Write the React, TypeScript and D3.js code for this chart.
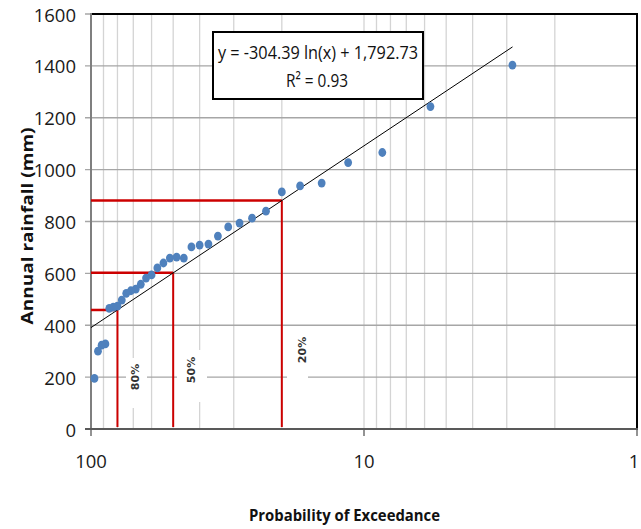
import React from "react";
import * as d3 from "d3";

// Exceedance probability (%) of each ranked year (rank m / (n+1))
const exceedance = [
  2.86, 5.71, 8.57, 11.43, 14.29, 17.14, 20.0, 22.86, 25.71, 28.57, 31.43, 34.29,
  37.14, 40.0, 42.86, 45.71, 48.57, 51.43, 54.29, 57.14, 60.0, 62.86, 65.71, 68.57,
  71.43, 74.29, 77.14, 80.0, 82.86, 85.71, 88.57, 91.43, 94.29, 97.14,
];
// Annual rainfall (mm), ranked
const rainfall = [
  1403, 1243, 1066, 1027, 948, 937, 914, 840, 813, 794, 779, 744, 713, 709, 702,
  659, 663, 659, 640, 621, 594, 582, 558, 539, 533, 523, 497, 474, 470, 465, 328,
  323, 300, 195,
];
const yTicks = [0, 200, 400, 600, 800, 1000, 1200, 1400, 1600];
const xTickLabels = [100, 10, 1];
const xMinorGrid = [90, 80, 70, 60, 50, 40, 30, 20, 10, 9, 8, 7, 6, 5, 4, 3, 2];
const trendCoef = { a: -304.39, b: 1792.73 };
const trendRange = [100, 2.857];
const designProbs = [80, 50, 20];
const designLabels = ["80%", "50%", "20%"];

const FONT = "'Liberation Sans Narrow', 'Open Sans', sans-serif";

export default function App() {
  const x = d3.scaleLog().domain([100, 1]).range([91, 637]);
  const y = d3.scaleLinear().domain([0, 1600]).range([429, 14]);
  const trend = (p: number) => trendCoef.a * Math.log(p) + trendCoef.b;
  const line = d3
    .line<number>()
    .x((p) => x(p))
    .y((p) => y(trend(p)));

  const labelBoxes = [
    { bx: 126, by: 358, bw: 21, bh: 50, cx: 135, cy: 377 },
    { bx: 177, by: 350, bw: 30, bh: 52, cx: 191.5, cy: 370 },
    { bx: 287, by: 330, bw: 21, bh: 55, cx: 302, cy: 350 },
  ];

  return (
    <svg
      width={641}
      height={529}
      style={{ position: "absolute", left: 0, top: 0, background: "#fff" }}
    >
      <rect x={0} y={0} width={641} height={529} fill="#fff" />
      {xMinorGrid.map((v) => (
        <line
          key={"vx" + v}
          x1={x(v)}
          x2={x(v)}
          y1={y(1600)}
          y2={y(0)}
          stroke="#d4d4d4"
          strokeWidth={1.3}
        />
      ))}
      {yTicks.map((v) => (
        <line
          key={"hy" + v}
          x1={85}
          x2={637}
          y1={y(v)}
          y2={y(v)}
          stroke="#a6a6a6"
          strokeWidth={1.3}
        />
      ))}
      {labelBoxes.map((b, i) => (
        <rect key={"lb" + i} x={b.bx} y={b.by} width={b.bw} height={b.bh} fill="#fff" />
      ))}
      <line x1={91} x2={638} y1={y(1600)} y2={y(1600)} stroke="#000" strokeWidth={2} />
      <line x1={637} x2={637} y1={y(1600)} y2={y(0)} stroke="#000" strokeWidth={2} />
      <line x1={91} x2={91} y1={y(1600) - 1} y2={y(0)} stroke="#7f7f7f" strokeWidth={2} />
      <line x1={85} x2={638} y1={y(0)} y2={y(0)} stroke="#595959" strokeWidth={2} />
      {xTickLabels.map((v) => (
        <line
          key={"xt" + v}
          x1={x(v)}
          x2={x(v)}
          y1={y(0)}
          y2={y(0) + 7}
          stroke="#595959"
          strokeWidth={1.3}
        />
      ))}
      {designProbs.map((p) => (
        <g key={"d" + p}>
          <line
            x1={91}
            x2={x(p)}
            y1={y(trend(p))}
            y2={y(trend(p))}
            stroke="#cc0000"
            strokeWidth={2.5}
          />
          <line
            x1={x(p)}
            x2={x(p)}
            y1={y(trend(p))}
            y2={y(0) - 2}
            stroke="#cc0000"
            strokeWidth={2}
          />
        </g>
      ))}
      <path d={line(trendRange) || ""} stroke="#000" strokeWidth={1} fill="none" />
      {exceedance.map((p, i) => (
        <ellipse
          key={"pt" + i}
          cx={x(p)}
          cy={y(rainfall[i])}
          rx={3.9}
          ry={4.4}
          fill="#4f81bd"
        />
      ))}
      {labelBoxes.map((b, i) => (
        <text
          key={"lt" + i}
          transform={`translate(${b.cx},${b.cy}) rotate(-90)`}
          textAnchor="middle"
          dominantBaseline="central"
          fontFamily="'DejaVu Sans', sans-serif"
          fontWeight="bold"
          fontSize={11}
          fill="#333"
        >
          {designLabels[i]}
        </text>
      ))}
      {yTicks.map((v) => (
        <text
          key={"yl" + v}
          x={76}
          y={y(v)}
          textAnchor="end"
          dominantBaseline="central"
          fontFamily={FONT}
          fontSize={18.5}
          fill="#1a1a1a"
        >
          {v}
        </text>
      ))}
      {xTickLabels.map((v) => (
        <text
          key={"xl" + v}
          x={Math.min(x(v), 634)}
          y={468}
          textAnchor="middle"
          fontFamily={FONT}
          fontSize={18.5}
          fill="#1a1a1a"
        >
          {v}
        </text>
      ))}
      <rect x={213} y={32} width={210} height={67} fill="#fff" stroke="#000" strokeWidth={2} />
      <text
        x={318}
        y={59}
        textAnchor="middle"
        fontFamily={FONT}
        fontSize={19}
        textLength={200}
        lengthAdjust="spacingAndGlyphs"
        fill="#111"
      >
        y = -304.39 ln(x) + 1,792.73
      </text>
      <text
        x={317}
        y={87}
        textAnchor="middle"
        fontFamily={FONT}
        fontSize={19}
        textLength={62}
        lengthAdjust="spacingAndGlyphs"
        fill="#111"
      >
        R² = 0.93
      </text>
      <text
        transform="translate(33,226) rotate(-90)"
        textAnchor="middle"
        fontFamily="'Open Sans', sans-serif"
        fontWeight="bold"
        fontSize={16.5}
        textLength={197}
        lengthAdjust="spacingAndGlyphs"
        fill="#111"
      >
        Annual rainfall (mm)
      </text>
      <text
        x={344.5}
        y={521}
        textAnchor="middle"
        fontFamily="'Open Sans', sans-serif"
        fontWeight="bold"
        fontSize={16.5}
        textLength={191}
        lengthAdjust="spacingAndGlyphs"
        fill="#111"
      >
        Probability of Exceedance
      </text>
    </svg>
  );
}
